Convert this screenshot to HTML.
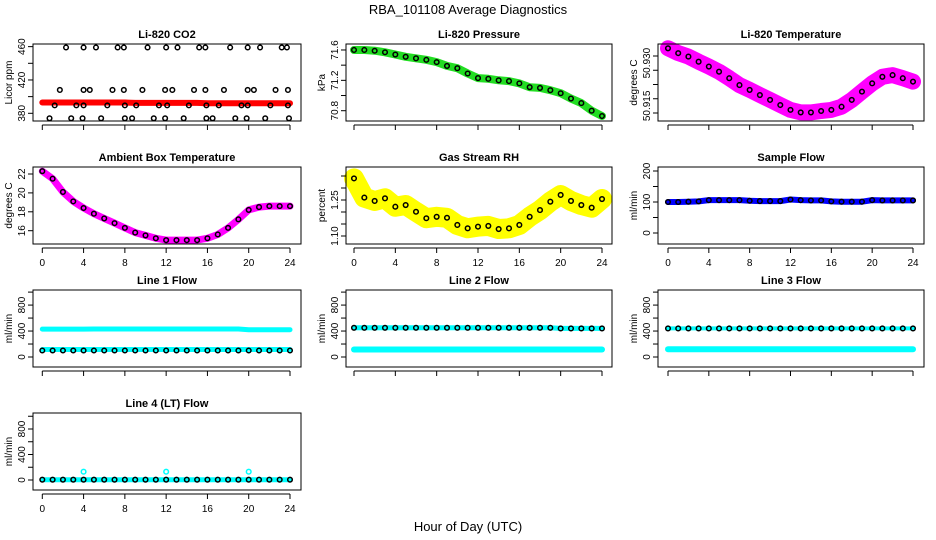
<!DOCTYPE html>
<html><head><meta charset="utf-8"><style>
body{margin:0;background:#fff;}
svg{display:block;font-family:"Liberation Sans",Arial,sans-serif;}
</style></head><body>
<svg id="c" width="936" height="540" viewBox="0 0 936 540">
<text x="468" y="14" text-anchor="middle" font-size="13">RBA_101108  Average Diagnostics</text>
<text x="468" y="531" text-anchor="middle" font-size="13">Hour of Day (UTC)</text>
</svg>
<script>
const hours = [0,1,2,3,4,5,6,7,8,9,10,11,12,13,14,15,16,17,18,19,20,21,22,23,24];
const xTickLabels = ['0','4','8','12','16','20','24'];
const co2Red = [393,393,393,393,393,393,393,393,393,392.5,392.5,392.5,392.5,392.5,392.5,392.5,392,392,392,392,392,392,392,392,392];
const co2BlackX = [2.3,4.0,5.2,7.3,7.9,10.2,12.0,13.1,15.2,15.8,18.2,19.9,21.1,23.2,23.7,
  1.7,4.0,4.6,6.8,7.9,9.7,11.9,12.6,14.7,15.8,17.6,19.9,20.5,22.6,23.8,
  1.2,3.3,4.0,6.3,8.0,9.1,11.3,12.1,14.2,15.9,17.1,19.3,19.9,22.1,23.8,
  0.7,2.8,3.9,5.7,8.0,8.7,10.8,11.9,13.7,15.9,16.5,18.7,19.8,21.6,23.9];
const co2BlackY = [459,459,459,459,459,459,459,459,459,459,459,459,459,459,459,
  408,408,408,408,408,408,408,408,408,408,408,408,408,408,408,
  389.5,389.5,389.5,389.5,389.5,389.5,389.5,389.5,389.5,389.5,389.5,389.5,389.5,389.5,389.5,
  374,374,374,374,374,374,374,374,374,374,374,374,374,374,374];
const pressure = [71.60,71.60,71.59,71.57,71.54,71.51,71.49,71.47,71.44,71.39,71.36,71.29,71.23,71.22,71.20,71.19,71.16,71.11,71.10,71.07,71.03,70.96,70.90,70.80,70.73];
const licorTemp = [50.9327,50.9310,50.9298,50.9280,50.9263,50.9245,50.9222,50.9198,50.9181,50.9163,50.9146,50.9128,50.9111,50.9102,50.9102,50.9107,50.9111,50.9122,50.9146,50.9175,50.9204,50.9227,50.9233,50.9222,50.9210];
const ambientTemp = [22.3,21.5,20.1,19.1,18.4,17.8,17.3,16.8,16.3,15.8,15.5,15.2,15.0,15.0,15.0,15.0,15.2,15.6,16.3,17.2,18.2,18.5,18.6,18.6,18.6];
const gasRH = [1.340,1.260,1.246,1.257,1.222,1.229,1.201,1.174,1.180,1.176,1.146,1.132,1.139,1.142,1.129,1.132,1.146,1.180,1.208,1.243,1.271,1.246,1.229,1.218,1.254];
const sampleFlow = [100,100,101,102,106,106,106,106,104,103,103,103,108,106,105,105,102,101,101,101,106,105,105,105,105];
const line1Hi = [430,430,430,430,430,432,432,432,432,432,432,432,432,432,432,432,432,432,432,432,420,420,420,420,420];
const line1Lo = [115,115,115,115,115,115,115,115,115,115,115,115,115,115,115,115,115,115,115,115,115,115,115,115,115];
const line1Black = [100,100,100,100,100,100,100,100,100,100,100,100,100,100,100,100,100,100,100,100,100,100,100,100,100];
const line2Lo = [115,115,115,115,115,115,115,115,115,115,115,115,115,115,115,115,115,115,115,115,115,115,115,115,115];
const line2Black = [450,450,450,450,450,450,450,450,450,450,450,450,450,450,450,450,450,450,450,450,440,440,440,440,440];
const line3Lo = [120,120,120,120,120,120,120,120,120,120,120,120,120,120,120,120,120,120,120,120,120,120,120,120,120];
const line3Black = [440,440,440,440,440,440,440,440,440,440,440,440,440,440,440,440,440,440,440,440,440,440,440,440,440];
const line4Black = [5,5,5,5,5,5,5,5,5,5,5,5,5,5,5,5,5,5,5,5,5,5,5,5,5];
const line4SpikeX = [4,12,20];
const line4SpikeY = [130,130,130];

const NS='http://www.w3.org/2000/svg';
const svg=document.getElementById('c');
const cols=[{l:33,r:301,x0:42.3,x24:290},{l:346,r:612,x0:354,x24:602},{l:658,r:924,x0:668,x24:913}];
const rows=[{t:44,b:121},{t:167,b:244},{t:290,b:367},{t:413,b:490}];
function mk(tag,attrs,parent){const e=document.createElementNS(NS,tag);for(const k in attrs)e.setAttribute(k,attrs[k]);(parent||svg).appendChild(e);return e;}

const panels=[
 {c:0,r:0,title:'Li-820 CO2',ylab:'Licor ppm',v0:380,p0:113.3,k:0.8333,ticks:[380,400,420,440,460],labels:[380,420,460],
  series:[{t:'band',ys:co2Red,col:'#ff0000',w:6},{t:'pts',xs:co2BlackX,ys:co2BlackY,col:'#000'}]},
 {c:1,r:0,title:'Li-820 Pressure',ylab:'kPa',v0:70.8,p0:110.7,k:75.9,ticks:[70.8,71.0,71.2,71.4,71.6],labels:['70.8','71.2','71.6'],
  series:[{t:'band',ys:pressure,col:'#22dd22',w:8},{t:'pts',ys:pressure,col:'#000'}]},
 {c:2,r:0,title:'Li-820 Temperature',ylab:'degrees C',v0:50.910,p0:113,k:2850,ticks:[50.910,50.915,50.920,50.925,50.930],labels:[],lbl:[['50.915',50.9125],['50.930',50.9275]],
  series:[{t:'band',ys:licorTemp,col:'#ff00ff',w:16},{t:'pts',ys:licorTemp,col:'#000'}]},
 {c:0,r:1,title:'Ambient Box Temperature',ylab:'degrees C',v0:16,p0:230.7,k:9.45,ticks:[16,18,20,22],labels:[16,18,20,22],xl:true,
  series:[{t:'band',ys:ambientTemp,col:'#ff00ff',w:7},{t:'pts',ys:ambientTemp,col:'#000'}]},
 {c:1,r:1,title:'Gas Stream RH',ylab:'percent',v0:1.10,p0:236,k:240,ticks:[1.10,1.15,1.20,1.25,1.30,1.35],labels:['1.10','1.25'],xl:true,
  series:[{t:'band',ys:gasRH,col:'#ffff00',w:20},{t:'pts',ys:gasRH,col:'#000'}]},
 {c:2,r:1,title:'Sample Flow',ylab:'ml/min',v0:0,p0:233,k:0.31,ticks:[0,50,100,150,200],labels:[0,100,200],xl:true,
  series:[{t:'band',ys:sampleFlow,col:'#0000ff',w:6},{t:'pts',ys:sampleFlow,col:'#000'}]},
 {c:0,r:2,title:'Line 1 Flow',ylab:'ml/min',v0:0,p0:357,k:0.0649,ticks:[0,200,400,600,800,1000],labels:[0,400,800],
  series:[{t:'band',ys:line1Hi,col:'#00ffff',w:5},{t:'band',ys:line1Lo,col:'#00ffff',w:5},{t:'pts',ys:line1Black,col:'#000'}]},
 {c:1,r:2,title:'Line 2 Flow',ylab:'ml/min',v0:0,p0:357,k:0.0649,ticks:[0,200,400,600,800,1000],labels:[0,400,800],
  series:[{t:'band',ys:line2Lo,col:'#00ffff',w:6},{t:'band',ys:line2Black,col:'#00ffff',w:5},{t:'pts',ys:line2Black,col:'#000'}]},
 {c:2,r:2,title:'Line 3 Flow',ylab:'ml/min',v0:0,p0:357,k:0.0649,ticks:[0,200,400,600,800,1000],labels:[0,400,800],
  series:[{t:'band',ys:line3Lo,col:'#00ffff',w:6},{t:'band',ys:line3Black,col:'#00ffff',w:4},{t:'pts',ys:line3Black,col:'#000'}]},
 {c:0,r:3,title:'Line 4 (LT) Flow',ylab:'ml/min',v0:0,p0:480,k:0.06375,ticks:[0,200,400,600,800,1000],labels:[0,400,800],xl:true,
  series:[{t:'band',ys:line4Black,col:'#00ffff',w:5},{t:'pts',ys:line4Black,col:'#000'},{t:'pts',xs:line4SpikeX,ys:line4SpikeY,col:'#00ffff'}]}
];

panels.forEach((p,i)=>{
  const C=cols[p.c],R=rows[p.r];
  const g=mk('g',{});
  
  
  const xs=h=>C.x0+(C.x24-C.x0)*h/24;
  const ys=v=>p.p0-(v-p.v0)*p.k;
  const t=mk('text',{x:(C.l+C.r)/2,y:R.t-6,'text-anchor':'middle','font-size':11,'font-weight':'bold'},g);
  t.textContent=p.title;
  
  
  const cy=(R.t+R.b)/2;
  const yl=mk('text',{x:0,y:0,transform:`translate(${C.l-21},${cy}) rotate(-90)`,'text-anchor':'middle','font-size':10},g);
  yl.textContent=p.ylab;
  
  
  const clip=mk('g',{},g);
  p.series.forEach(s=>{
    const xx=s.xs||hours;
    if(s.t==='band'){
      const d=s.ys.map((v,j)=>(j?'L':'M')+xs(xx[j]).toFixed(1)+' '+ys(v).toFixed(1)).join(' ');
      const pa=mk('path',{d:d,fill:'none',stroke:s.col,'stroke-width':s.w,'stroke-linejoin':'round','stroke-linecap':'round'},clip);
      
      
    } else {
      s.ys.forEach((v,j)=>{
        const ci=mk('circle',{cx:xs(xx[j]),cy:ys(v),r:2.3,fill:'none',stroke:s.col,'stroke-width':1.5},clip);
        
        
      });
    }
  });
  const b=mk('rect',{x:C.l,y:R.t,width:C.r-C.l,height:R.b-R.t,fill:'none',stroke:'#000','stroke-width':1},g);
  
  
  p.ticks.forEach(v=>{mk('line',{x1:C.l-5,x2:C.l,y1:ys(v),y2:ys(v),stroke:'#000'},g);});
  const lbls=p.lbl||p.labels.map(v=>[String(v),Number(v)]);
  lbls.forEach(([s,v])=>{
    const tt=mk('text',{x:0,y:0,transform:`translate(${C.l-8},${ys(v)}) rotate(-90)`,'text-anchor':'middle','font-size':10},g);
    tt.textContent=s;
    
    
  });
  xTickLabels.forEach(s=>{
    const x=xs(Number(s));
    mk('line',{x1:x,x2:x,y1:R.b+4,y2:R.b+9,stroke:'#000'},g);
    if(p.xl){
      const tt=mk('text',{x:x,y:R.b+22,'text-anchor':'middle','font-size':10},g);
      tt.textContent=s;
      
      
    }
  });
  mk('line',{x1:xs(0),x2:xs(24),y1:R.b+4,y2:R.b+4,stroke:'#000'},g);
});
</script>
</body></html>
